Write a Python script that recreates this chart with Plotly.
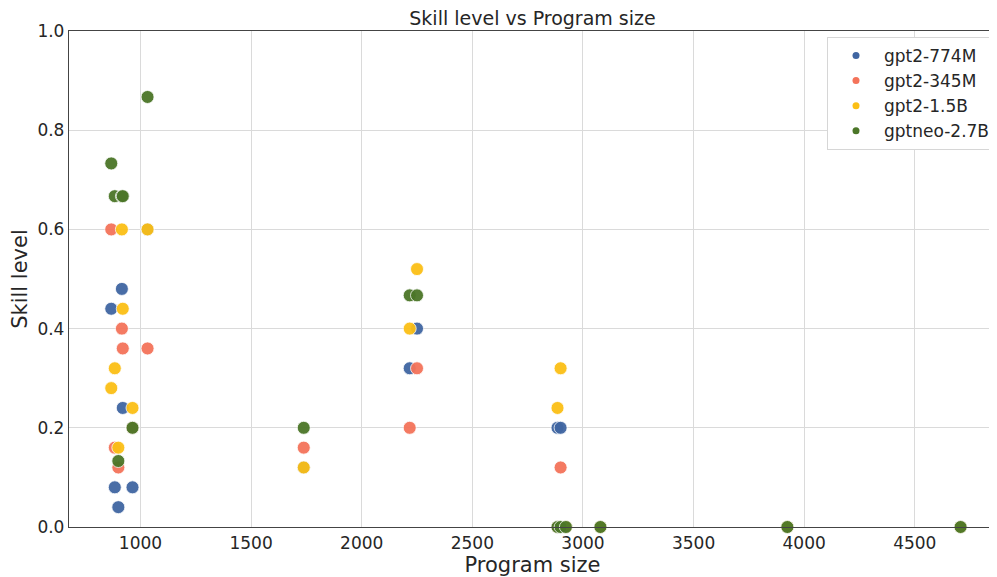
import plotly.graph_objects as go

# Program sizes (x) shared by all models
program_size = [868, 884, 900, 916, 920, 964, 1032, 1738, 2217, 2250, 2885, 2899, 2923, 3079, 3924, 4707]

models = ["gpt2-774M", "gpt2-345M", "gpt2-1.5B", "gptneo-2.7B"]
colors = ["#4066a2", "#f4735a", "#fbbf16", "#4b7628"]

skill_774M = [0.44, 0.08, 0.04, 0.48, 0.24, 0.08, 0.60, 0.12, 0.32, 0.40, 0.20, 0.20, 0.0, 0.0, 0.0, 0.0]
skill_345M = [0.60, 0.16, 0.12, 0.40, 0.36, 0.20, 0.36, 0.16, 0.20, 0.32, 0.0, 0.12, 0.0, 0.0, 0.0, 0.0]
skill_15B = [0.28, 0.32, 0.16, 0.60, 0.44, 0.24, 0.60, 0.12, 0.40, 0.52, 0.24, 0.32, 0.0, 0.0, 0.0, 0.0]
skill_neo = [0.733, 0.667, 0.133, 0.667, 0.667, 0.20, 0.867, 0.20, 0.467, 0.467, 0.0, 0.0, 0.0, 0.0, 0.0, 0.0]

series = [skill_774M, skill_345M, skill_15B, skill_neo]

x_ticks = [1000, 1500, 2000, 2500, 3000, 3500, 4000, 4500]
y_ticks = [0.0, 0.2, 0.4, 0.6, 0.8, 1.0]

FONT = "DejaVu Sans"
TXT = "#262626"
# the page body has an 8px margin, so the figure is sized to fit the 997x577 window
W, H = 989, 569
fig = go.Figure()

for name, col, vals in zip(models, colors, series):
    fig.add_trace(go.Scatter(
        x=program_size, y=vals, mode="markers", name=name, showlegend=False,
        marker=dict(size=13, color=col, opacity=0.95, line=dict(color="white", width=0.8)),
        cliponaxis=False,
    ))

# legend-only entries with small dots
for name, col in zip(models, colors):
    fig.add_trace(go.Scatter(
        x=[None], y=[None], mode="markers", name=name,
        marker=dict(size=7, color=col),
    ))

fig.update_layout(
    width=W, height=H,
    margin=dict(l=61, r=1, t=23, b=50),
    paper_bgcolor="white", plot_bgcolor="white",
    font=dict(family=FONT, size=17, color=TXT),
    title=dict(text="Skill level vs Program size", x=(61 + 988) / 2 / W, xref="container", xanchor="center",
               y=1 - 10.5 / H, yanchor="middle", font=dict(family=FONT, size=19, color=TXT)),
    showlegend=True,
    legend=dict(x=1.0, xanchor="right", y=0.988, yanchor="top",
                bgcolor="white", bordercolor="#d6d6d6", borderwidth=1,
                font=dict(family=FONT, size=17, color=TXT),
                tracegroupgap=0, itemwidth=46),
)

fig.update_xaxes(
    range=[677, 4867], tickvals=x_ticks, ticktext=[str(v) for v in x_ticks],
    showgrid=True, gridcolor="#dadada", gridwidth=1,
    showline=True, linecolor="#444444", linewidth=1.3, mirror=True,
    ticks="", zeroline=False, automargin=False,
    title=dict(text="Program size", font=dict(family=FONT, size=21, color=TXT), standoff=4),
    tickfont=dict(family=FONT, size=17, color=TXT),
)
fig.update_yaxes(
    range=[0, 1.0], tickvals=y_ticks, ticktext=[f"{v:.1f}" for v in y_ticks],
    showgrid=True, gridcolor="#dadada", gridwidth=1,
    showline=True, linecolor="#444444", linewidth=1.3, mirror=True,
    ticks="", zeroline=False, automargin=False,
    title=dict(text="Skill level", font=dict(family=FONT, size=21, color=TXT), standoff=6),
    tickfont=dict(family=FONT, size=17, color=TXT),
)

fig.write_html("out.html")
